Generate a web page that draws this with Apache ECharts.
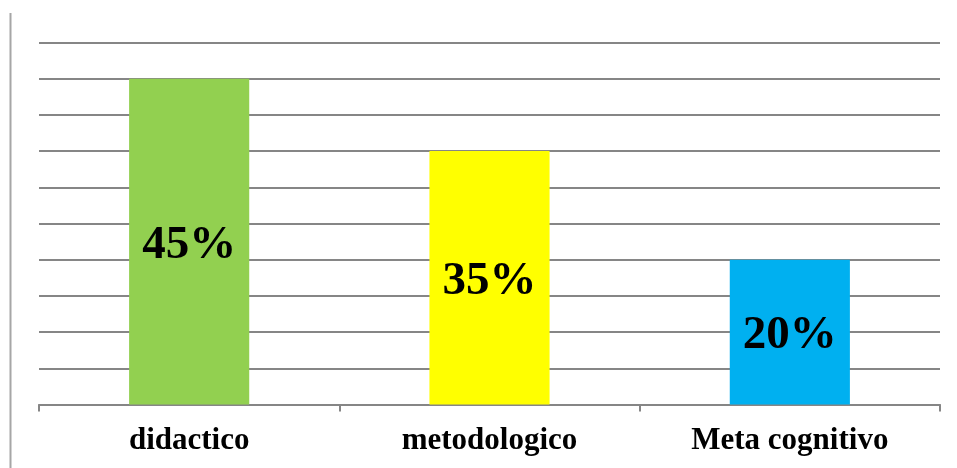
<!DOCTYPE html>
<html>
<head>
<meta charset="utf-8">
<script src="https://cdn.jsdelivr.net/npm/echarts@6/dist/echarts.min.js"></script>
<style>
  html, body { margin: 0; padding: 0; background: #fff; }
  #chart { width: 957px; height: 468px; }
</style>
</head>
<body>
<div id="chart"></div>
<script>
const categories = ['didactico', 'metodologico', 'Meta cognitivo'];
const values = [45, 35, 20];
const barColors = ['#92D050', '#FFFF00', '#00B0F0'];

const myChart = echarts.init(document.getElementById('chart'));
const serif = '"Liberation Serif", "Times New Roman", serif';

const option = {
    animation: false,
    grid: { left: 39, right: 17, top: 42.5, bottom: 63.5 },
    // thin frame line on the left edge
    graphic: [{
        type: 'line',
        shape: { x1: 10.5, y1: 13, x2: 10.5, y2: 468 },
        style: { stroke: '#a6a6a6', lineWidth: 2 },
    }],
    xAxis: {
        type: 'category',
        data: categories,
        axisLine: { show: true, lineStyle: { color: '#868686', width: 2 } },
        axisTick: { show: true, alignWithLabel: false, interval: 0, length: 7, lineStyle: { color: '#868686', width: 2 } },
        axisLabel: {
            color: '#000',
            fontFamily: serif,
            fontWeight: 'bold',
            fontSize: 31,
            margin: 21,
        },
    },
    yAxis: {
        type: 'value',
        min: 0,
        max: 50,
        interval: 5,
        axisLabel: { show: false },
        axisLine: { show: false },
        axisTick: { show: false },
        splitLine: { lineStyle: { color: '#868686', width: 2 } },
    },
    series: [{
        type: 'bar',
        barWidth: '40%',
        data: values.map((v, i) => ({ value: v, itemStyle: { color: barColors[i] } })),
        label: {
            show: true,
            position: 'inside',
            offset: [0, 4],
            formatter: '{c}%',
            color: '#000',
            fontFamily: serif,
            fontWeight: 'bold',
            fontSize: 47,
        },
    }],
};
myChart.setOption(option);
</script>
</body>
</html>
